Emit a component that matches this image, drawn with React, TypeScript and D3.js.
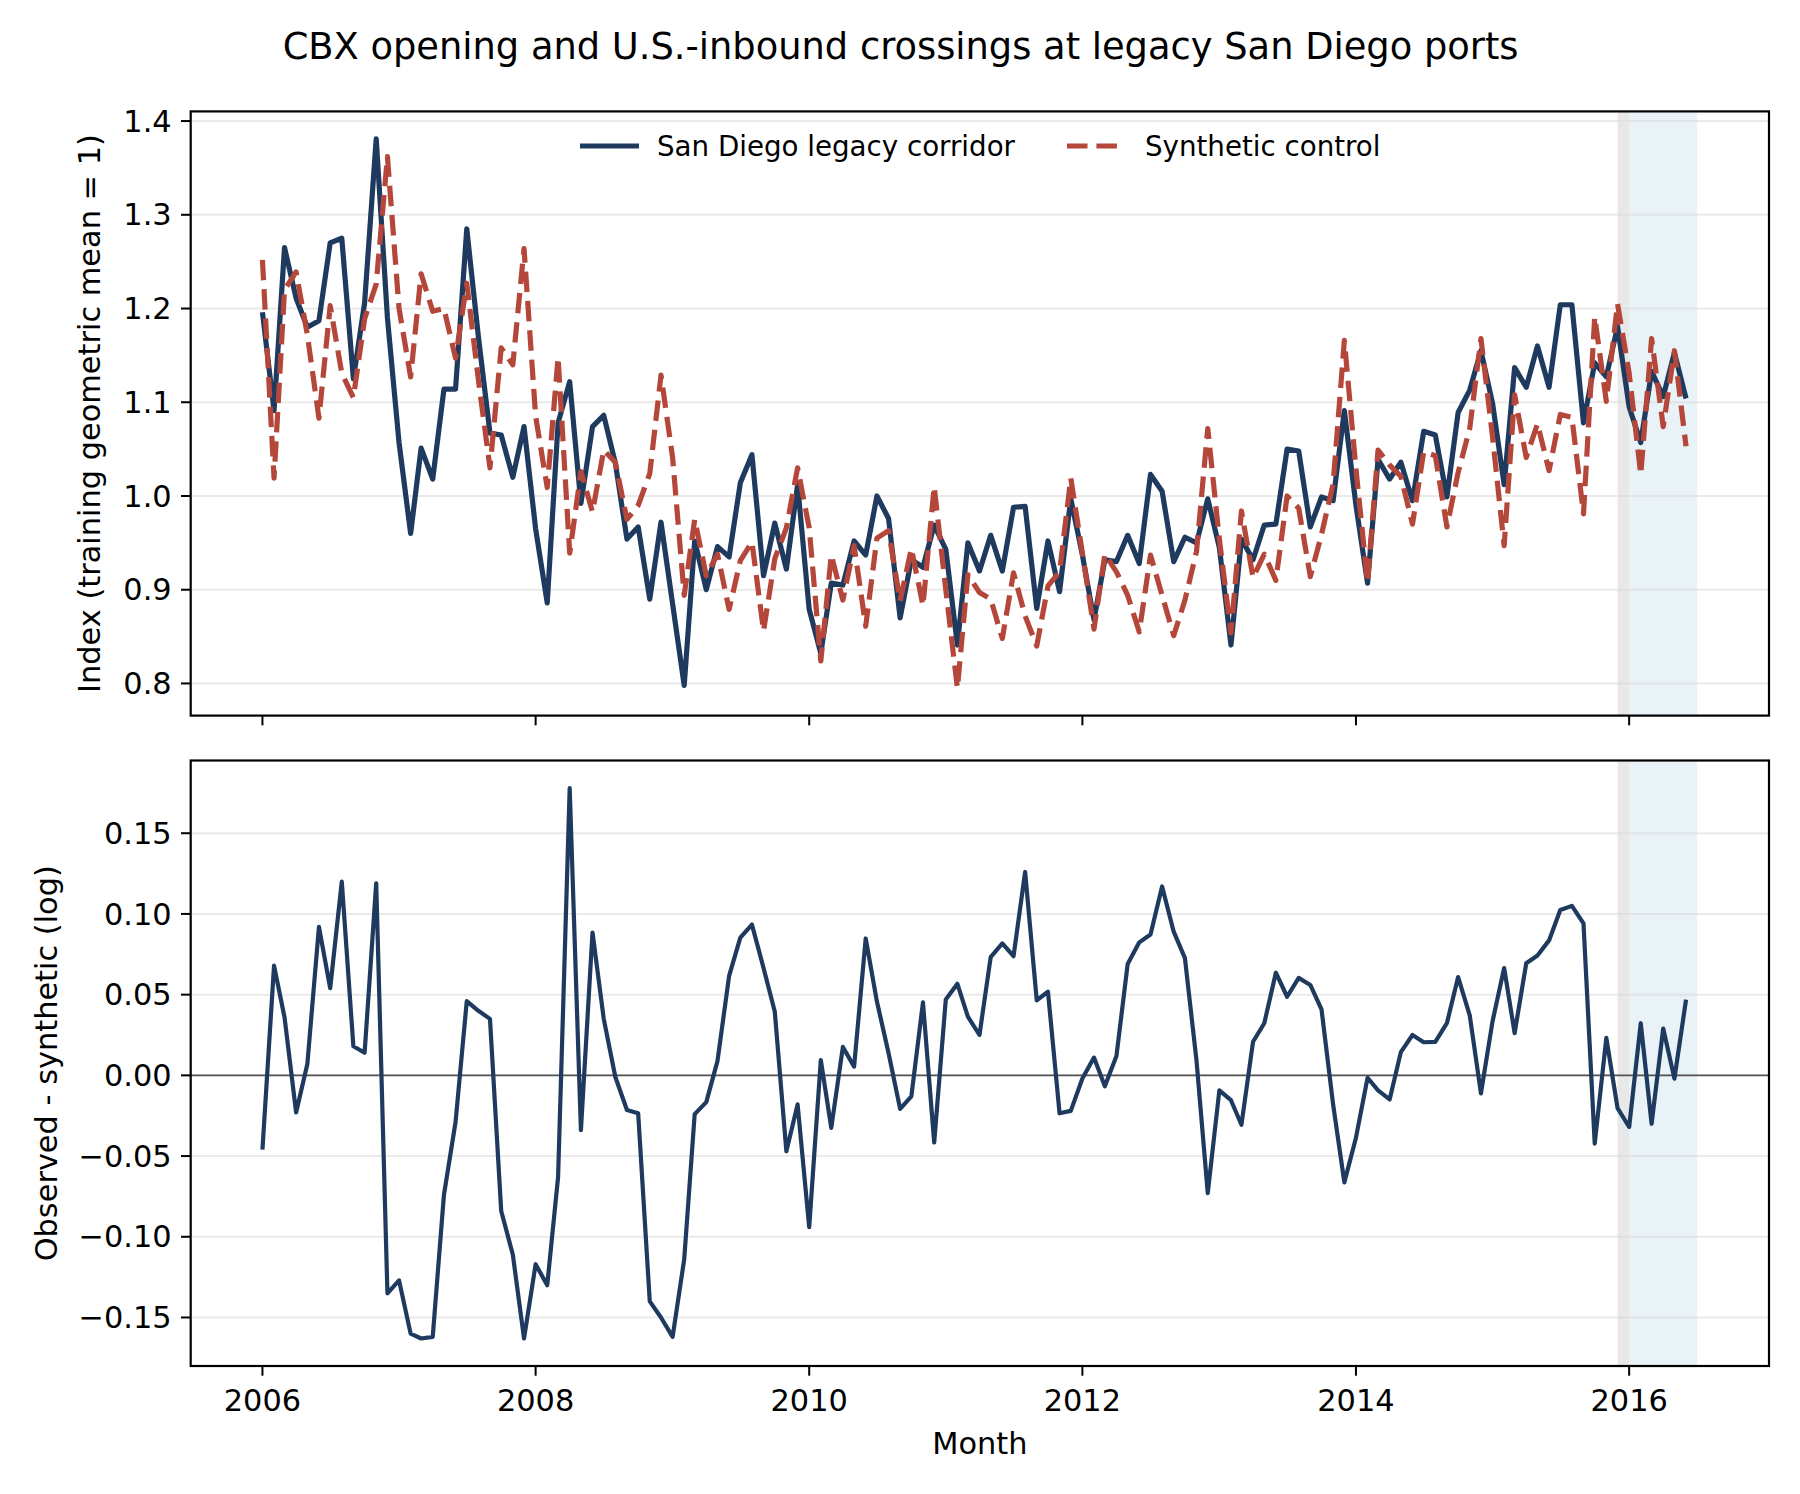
import React from 'react';
import * as d3 from 'd3';

// monthly series, Jan 2006 .. Jun 2016
const observed = [
  1.196, 1.091, 1.265, 1.211, 1.18, 1.187, 1.27, 1.275, 1.125, 1.206, 1.381, 1.19,
  1.057, 0.96, 1.051, 1.018, 1.114, 1.114, 1.285, 1.17, 1.067, 1.065, 1.02, 1.074,
  0.965, 0.886, 1.078, 1.122, 0.992, 1.074, 1.086, 1.035, 0.954, 0.967, 0.89, 0.972,
  0.885, 0.798, 0.952, 0.9, 0.946, 0.935, 1.014, 1.044, 0.915, 0.971, 0.922, 1.012,
  0.879, 0.832, 0.907, 0.905, 0.952, 0.937, 1.0, 0.976, 0.87, 0.932, 0.924, 0.969,
  0.943, 0.841, 0.95, 0.92, 0.958, 0.92, 0.988, 0.989, 0.88, 0.952, 0.898, 0.997,
  0.937, 0.868, 0.932, 0.93, 0.958, 0.928, 1.023, 1.005, 0.93, 0.956, 0.95, 0.997,
  0.945, 0.841, 0.954, 0.932, 0.969, 0.97, 1.05, 1.048, 0.967, 0.999, 0.995, 1.091,
  0.99, 0.907, 1.039, 1.018, 1.036, 0.995, 1.069, 1.065, 0.999, 1.089, 1.113, 1.155,
  1.099, 1.012, 1.137, 1.116, 1.16, 1.116, 1.204, 1.204, 1.078, 1.142, 1.127, 1.181,
  1.095, 1.057, 1.133, 1.106, 1.153, 1.104,
];

const synthetic = [
  1.252, 1.019, 1.22, 1.239, 1.172, 1.083, 1.203, 1.131, 1.105, 1.189, 1.226, 1.362,
  1.2, 1.127, 1.237, 1.197, 1.2, 1.147, 1.227, 1.124, 1.03, 1.158, 1.14, 1.264,
  1.085, 1.009, 1.148, 0.939, 1.026, 0.983, 1.049, 1.036, 0.975, 0.99, 1.024, 1.129,
  1.041, 0.894, 0.975, 0.915, 0.938, 0.879, 0.931, 0.951, 0.856, 0.933, 0.966, 1.03,
  0.966, 0.824, 0.937, 0.889, 0.947, 0.861, 0.955, 0.963, 0.888, 0.944, 0.883, 1.01,
  0.9, 0.795, 0.916, 0.897, 0.89, 0.848, 0.918, 0.872, 0.84, 0.904, 0.919, 1.019,
  0.939, 0.858, 0.938, 0.919, 0.894, 0.855, 0.937, 0.894, 0.851, 0.889, 0.941, 1.072,
  0.954, 0.854, 0.984, 0.913, 0.938, 0.91, 1.0, 0.987, 0.914, 0.959, 1.013, 1.166,
  1.029, 0.908, 1.049, 1.033, 1.021, 0.97, 1.047, 1.043, 0.967, 1.025, 1.072, 1.168,
  1.063, 0.947, 1.108, 1.041, 1.077, 1.027, 1.087, 1.084, 0.981, 1.191, 1.101, 1.205,
  1.131, 1.023, 1.168, 1.074, 1.155, 1.053,
];

// observed - synthetic (log)
const gap = [
  -0.046, 0.068, 0.036, -0.023, 0.007, 0.092, 0.054, 0.12, 0.018, 0.014, 0.119, -0.135,
  -0.127, -0.16, -0.163, -0.162, -0.074, -0.029, 0.046, 0.04, 0.035, -0.084, -0.111, -0.163,
  -0.117, -0.13, -0.063, 0.178, -0.034, 0.0885, 0.035, -0.001, -0.0215, -0.0235, -0.14, -0.15,
  -0.162, -0.114, -0.024, -0.0166, 0.009, 0.0616, 0.0853, 0.0934, 0.0665, 0.0396, -0.047, -0.018,
  -0.094, 0.0095, -0.0325, 0.0176, 0.0054, 0.0848, 0.0457, 0.0139, -0.0208, -0.013, 0.0452, -0.0416,
  0.047, 0.0567, 0.0364, 0.025, 0.0733, 0.0817, 0.0738, 0.126, 0.0465, 0.0518, -0.0235, -0.022,
  -0.002, 0.011, -0.0068, 0.012, 0.069, 0.0824, 0.0873, 0.117, 0.089, 0.0726, 0.009, -0.0729,
  -0.0093, -0.0154, -0.0306, 0.0208, 0.0323, 0.0636, 0.0487, 0.0604, 0.056, 0.0408, -0.018, -0.0663,
  -0.0386, -0.0015, -0.0093, -0.0149, 0.0144, 0.025, 0.0205, 0.0208, 0.0323, 0.0609, 0.0372, -0.0112,
  0.0335, 0.0665, 0.0262, 0.0694, 0.0743, 0.0836, 0.1024, 0.105, 0.0941, -0.0423, 0.0232, -0.0203,
  -0.032, 0.0323, -0.03, 0.029, -0.002, 0.0469,
];

const months = d3.timeMonth.range(new Date(2006, 0, 1), new Date(2006, 0 + observed.length, 1));
const transition = [new Date(2015, 11, 1), new Date(2016, 0, 1)];
const postPeriod = [new Date(2016, 0, 1), new Date(2016, 6, 1)];

const topTicks = [0.8, 0.9, 1.0, 1.1, 1.2, 1.3, 1.4];
const bottomTicks = [-0.15, -0.1, -0.05, 0, 0.05, 0.1, 0.15];
const xTickYears = [2006, 2008, 2010, 2012, 2014, 2016];

const W = 1800;
const H = 1494;
const left = 190.7;
const right = 1769;
const topPanel = { y0: 111.4, y1: 715.6 };
const botPanel = { y0: 760.5, y1: 1366 };

const navy = '#1f3a5f';
const rust = '#b5473a';
const font = 'DejaVu Sans, sans-serif';
const tickSize = 30.4;

const pad = (lo: number, hi: number): [number, number] => {
  const m = (hi - lo) * 0.05;
  return [lo - m, hi + m];
};

export default function App() {
  const t0 = months[0].getTime();
  const t1 = postPeriod[1].getTime();
  const [xa, xb] = pad(t0, t1);
  const x = d3.scaleTime().domain([new Date(xa), new Date(xb)]).range([left, right]);

  const allTop = observed.concat(synthetic);
  const yTop = d3.scaleLinear()
    .domain(pad(d3.min(allTop) ?? 0, d3.max(allTop) ?? 1))
    .range([topPanel.y1, topPanel.y0]);
  const yBot = d3.scaleLinear()
    .domain(pad(d3.min(gap) ?? 0, d3.max(gap) ?? 1))
    .range([botPanel.y1, botPanel.y0]);

  const lineTop = (vals: number[]) =>
    d3.line<number>().x((_, i) => x(months[i])).y(d => yTop(d))(vals) ?? '';
  const lineGap = d3.line<number>().x((_, i) => x(months[i])).y(d => yBot(d))(gap) ?? '';

  const fmtBot = (v: number) => d3.format('.2f')(v).replace('-', '\u2212');

  const panel = (p: { y0: number; y1: number }, y: d3.ScaleLinear<number, number>, ticks: number[], fmt: (v: number) => string, showX: boolean, key: string) => (
    <g key={key}>
      <rect x={x(transition[0])} width={x(transition[1]) - x(transition[0])} y={p.y0} height={p.y1 - p.y0} fill="#e8e8e8" />
      <rect x={x(postPeriod[0])} width={x(postPeriod[1]) - x(postPeriod[0])} y={p.y0} height={p.y1 - p.y0} fill="#e9f2f6" />
      {ticks.map(t => (
        <line key={t} x1={left} x2={right} y1={y(t)} y2={y(t)} stroke="#d9d9d9" strokeOpacity={0.55} strokeWidth={2} />
      ))}
      {ticks.map(t => (
        <g key={'t' + t}>
          <line x1={left - 9.7} x2={left} y1={y(t)} y2={y(t)} stroke="#000" strokeWidth={2} />
          <text x={left - 19} y={y(t)} dy="0.35em" textAnchor="end" fontSize={tickSize} fontFamily={font}>{fmt(t)}</text>
        </g>
      ))}
      {xTickYears.map(yr => {
        const px = x(new Date(yr, 0, 1));
        return (
          <g key={'x' + yr}>
            <line x1={px} x2={px} y1={p.y1} y2={p.y1 + 9.7} stroke="#000" strokeWidth={2} />
            {showX && (
              <text x={px} y={p.y1 + 45} textAnchor="middle" fontSize={tickSize} fontFamily={font}>{yr}</text>
            )}
          </g>
        );
      })}
    </g>
  );

  return (
    <div style={{ position: 'absolute', left: 0, top: 0 }}>
      <svg width={W} height={H} style={{ display: 'block', background: '#fff' }}>
        <text x={900.6} y={46} dy="0.35em" textAnchor="middle" fontSize={36.8} fontFamily={font}>
          CBX opening and U.S.-inbound crossings at legacy San Diego ports
        </text>

        {panel(topPanel, yTop, topTicks, v => v.toFixed(1), false, 'top')}
        <path d={lineTop(observed)} fill="none" stroke={navy} strokeWidth={5.2} strokeLinejoin="round" />
        <path d={lineTop(synthetic)} fill="none" stroke={rust} strokeWidth={5.2} strokeDasharray="20.5,8.9" strokeLinejoin="round" />
        <rect x={left} y={topPanel.y0} width={right - left} height={topPanel.y1 - topPanel.y0} fill="none" stroke="#000" strokeWidth={2.2} />

        <g fontFamily={font} fontSize={27.7}>
          <line x1={580} x2={639} y1={146} y2={146} stroke={navy} strokeWidth={5.2} />
          <text x={657} y={146} dy="0.35em">San Diego legacy corridor</text>
          <line x1={1067} x2={1122} y1={146} y2={146} stroke={rust} strokeWidth={5.2} strokeDasharray="20.5,8.9" />
          <text x={1145} y={146} dy="0.35em">Synthetic control</text>
        </g>

        {panel(botPanel, yBot, bottomTicks, fmtBot, true, 'bot')}
        <line x1={left} x2={right} y1={yBot(0)} y2={yBot(0)} stroke="#555" strokeWidth={1.6} />
        <path d={lineGap} fill="none" stroke={navy} strokeWidth={4.2} strokeLinejoin="round" />
        <rect x={left} y={botPanel.y0} width={right - left} height={botPanel.y1 - botPanel.y0} fill="none" stroke="#000" strokeWidth={2.2} />

        <text x={(left + right) / 2} y={1443} dy="0.35em" textAnchor="middle" fontSize={tickSize} fontFamily={font}>Month</text>
        <text transform={`translate(89.6,${(topPanel.y0 + topPanel.y1) / 2}) rotate(-90)`} dy="0.35em" textAnchor="middle" fontSize={tickSize} fontFamily={font}>
          Index (training geometric mean = 1)
        </text>
        <text transform={`translate(46,${(botPanel.y0 + botPanel.y1) / 2}) rotate(-90)`} dy="0.35em" textAnchor="middle" fontSize={tickSize} fontFamily={font}>
          Observed - synthetic (log)
        </text>
      </svg>
    </div>
  );
}
